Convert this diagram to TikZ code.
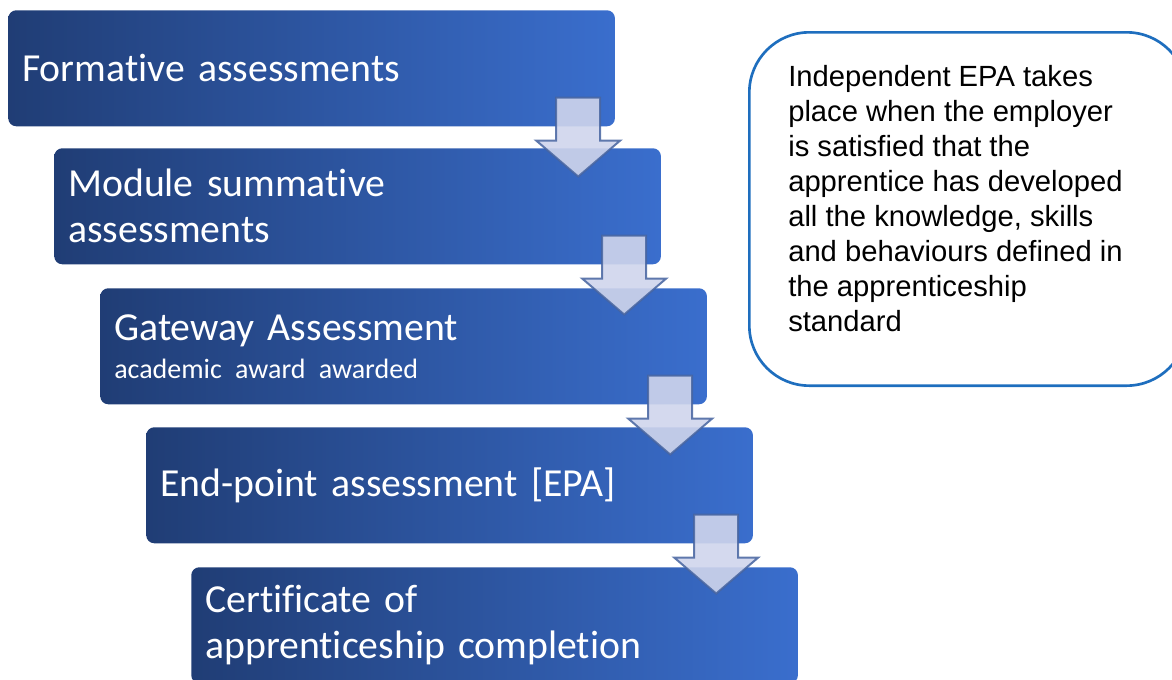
\documentclass[tikz,border=0pt]{standalone}
\usepackage{fontspec}
\setmainfont{Carlito}[Ligatures=NoCommon, WordSpace=0.75]
\newfontfamily\notefont{Liberation Sans}
\usetikzlibrary{positioning}
\usetikzlibrary{calc}
\definecolor{stepdark}{RGB}{32,61,117}
\definecolor{steplight}{RGB}{58,110,205}
\definecolor{arrowfill}{RGB}{207,213,236}
\definecolor{arrowline}{RGB}{70,100,160}
\definecolor{noteline}{RGB}{30,110,190}

% block arrow hanging from the lower right of a step
\newcommand{\stepdown}[1]{%
  \draw[stepArrow] ($(#1.south east)+(-59,-29)$) -- ++(44,0) -- ++(0,43) -- ++(20,0)
    -- ($(#1.south east)+(-37,50)$) -- ++(-42,-36) -- ++(20,0) -- cycle;}

\begin{document}
\begin{tikzpicture}[
    x=0.75pt, y=-0.75pt,
    stepbox/.style={rectangle, rounded corners=6pt, left color=stepdark, right color=steplight,
      minimum width=455pt, minimum height=87pt, text width=434pt, inner xsep=10.5pt,
      align=left, anchor=north west, text=white, font=\fontsize{29.8}{34.5}\selectfont},
    stepArrow/.style={fill=arrowfill, fill opacity=0.9, draw=arrowline, draw opacity=0.85,
      line width=1.5pt, line join=miter},
    notebox/.style={rectangle, rounded corners=45pt, draw=noteline, line width=2pt,
      minimum width=328pt, minimum height=265pt, anchor=north west},
    notetext/.style={align=left, inner sep=0pt, anchor=north west,
      font=\notefont\fontsize{21.9}{26.3}\selectfont}
]
    \useasboundingbox (0,0) rectangle (1172,679);
    \clip (0,0) rectangle (1172,679);

    \node[stepbox] (formative) at (8,10) {Formative assessments};
    \node[stepbox] (module) at (54,148) {Module summative\\assessments};
    \node[stepbox] (gateway) at (100,288) {Gateway Assessment\\[-6pt]{\fontsize{21}{24}\selectfont academic award awarded}};
    \node[stepbox] (epa) at (146,427) {End-point assessment [EPA]};
    \node[stepbox] (certificate) at (191,567) {Certificate of\\apprenticeship completion};

    \stepdown{formative}
    \stepdown{module}
    \stepdown{gateway}
    \stepdown{epa}

    \node[notebox] (note) at (748,31) {};
    \node[notetext] (notetxt) at ($(note.north west)+(40,34)$)
      {Independent EPA takes\\place when the employer\\is satisfied that the\\apprentice has developed\\all the knowledge, skills\\and behaviours defined in\\the apprenticeship\\standard};
\end{tikzpicture}
\end{document}
